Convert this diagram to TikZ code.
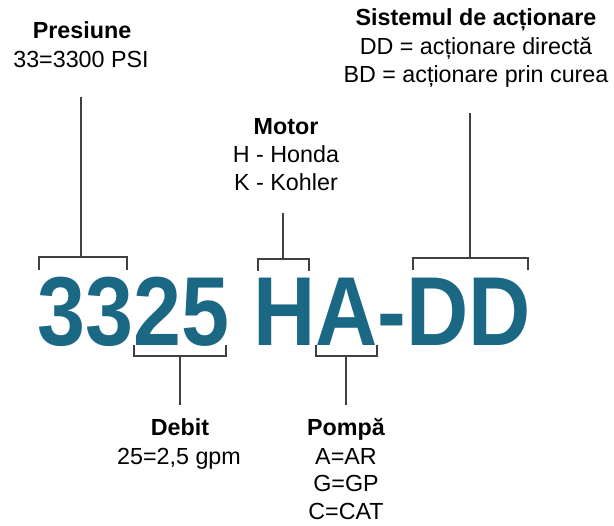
\documentclass[tikz,border=0pt]{standalone}
\usepackage{fontspec}
\setmainfont{Liberation Sans}
\definecolor{teal}{RGB}{27,104,132}
\definecolor{linegray}{RGB}{64,64,64}
\begin{document}
\begin{tikzpicture}[x=1pt,y=-1pt,
  lbl/.style={inner sep=0pt,anchor=base,font=\fontsize{23.3}{28}\selectfont},
  lblb/.style={lbl,font=\fontsize{23.3}{28}\selectfont\bfseries},
  brk/.style={draw=linegray,line width=1.4pt,line cap=butt,line join=miter}]
\useasboundingbox (0,0) rectangle (614,526);
\fill[white] (0,0) rectangle (614,526);
% big code
\node[inner sep=0pt,anchor=base west,text=teal] (code) at (37.4,346)
  {\scalebox{0.88}[1]{\fontsize{98}{98}\selectfont\bfseries 3325 HA-DD}};
% Presiune
\node[lblb] (pres1) at (82,39) {Presiune};
\node[lbl] (pres2) at (81,68) {33=3300 PSI};
\coordinate (presTop) at (81,97);
\coordinate (presMid) at (81,257);
\draw[brk] (39,270) -- (39,257) -- (127,257) -- (127,270);
\draw[brk] (presTop) -- (presMid);
% Motor
\node[lblb] (mot1) at (286,135) {Motor};
\node[lbl] (mot2) at (286,163) {H - Honda};
\node[lbl] (mot3) at (286,191) {K - Kohler};
\coordinate (motTop) at (283,213);
\coordinate (motMid) at (283,259);
\draw[brk] (258,271) -- (258,259) -- (309,259) -- (309,271);
\draw[brk] (motTop) -- (motMid);
% Sistemul
\node[lblb] (sis1) at (476,26) {Sistemul de acționare};
\node[lbl] (sis2) at (476,55) {DD = acționare directă};
\node[lbl] (sis3) at (476,83) {BD = acționare prin curea};
\coordinate (sisTop) at (470,113);
\coordinate (sisMid) at (470,258);
\draw[brk] (413,270) -- (413,258) -- (528,258) -- (528,270);
\draw[brk] (sisTop) -- (sisMid);
% Debit
\coordinate (debMid) at (180,356);
\coordinate (debBot) at (180,405);
\draw[brk] (134,345) -- (134,356) -- (226,356) -- (226,345);
\draw[brk] (debMid) -- (debBot);
\node[lblb] (deb1) at (180,436) {Debit};
\node[lbl] (deb2) at (179,465) {25=2,5 gpm};
% Pompa
\coordinate (pomMid) at (346,356);
\coordinate (pomBot) at (346,405);
\draw[brk] (316,345) -- (316,356) -- (377,356) -- (377,345);
\draw[brk] (pomMid) -- (pomBot);
\node[lblb] (pom1) at (346,436) {Pompă};
\node[lbl] (pom2) at (346,465) {A=AR};
\node[lbl] (pom3) at (346,492) {G=GP};
\node[lbl] (pom4) at (346,520) {C=CAT};
\end{tikzpicture}
\end{document}
